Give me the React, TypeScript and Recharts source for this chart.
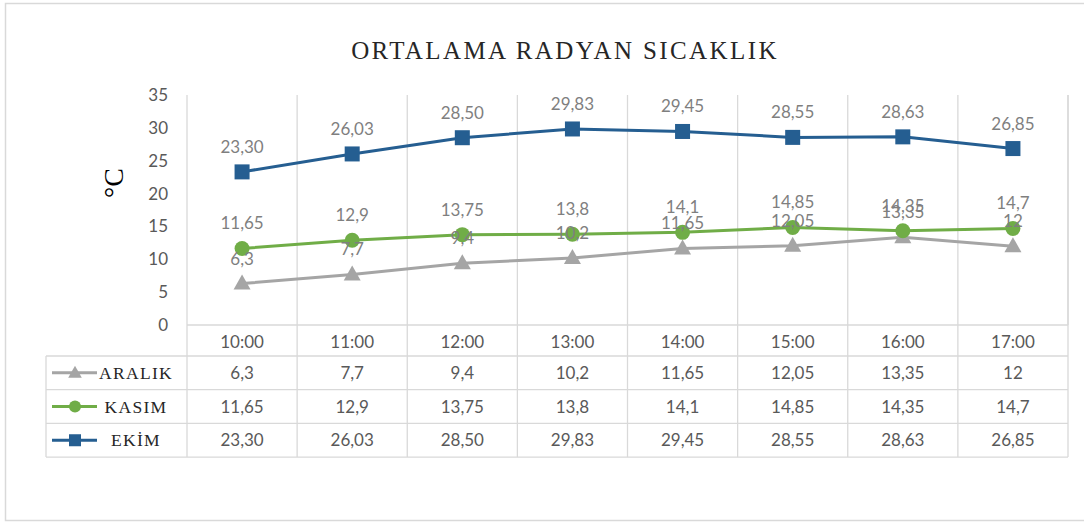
import React from 'react';
import { LineChart, Line, XAxis, YAxis, CartesianGrid, LabelList } from 'recharts';

// ---------- data ----------
const categories = ['10:00', '11:00', '12:00', '13:00', '14:00', '15:00', '16:00', '17:00'];
const aralik = [6.3, 7.7, 9.4, 10.2, 11.65, 12.05, 13.35, 12];
const kasim = [11.65, 12.9, 13.75, 13.8, 14.1, 14.85, 14.35, 14.7];
const ekim = [23.3, 26.03, 28.5, 29.83, 29.45, 28.55, 28.63, 26.85];
const yTicks = [0, 5, 10, 15, 20, 25, 30, 35];
const seriesNames = ['ARALIK', 'KASIM', 'EKİM'];
const chartTitle = 'ORTALAMA RADYAN SICAKLIK';
const yAxisTitle = '°C';

const fmtPlain = (v: number) => String(v).replace('.', ',');
const fmtTwo = (v: number) => v.toFixed(2).replace('.', ',');

const data = categories.map((c, i) => ({ time: c, ARALIK: aralik[i], KASIM: kasim[i], EKIM: ekim[i] }));

type Shape = 'triangle' | 'circle' | 'square';
const series: { key: string; name: string; color: string; shape: Shape; fmt: (v: number) => string; values: number[] }[] = [
  { key: 'ARALIK', name: seriesNames[0], color: '#A5A5A5', shape: 'triangle', fmt: fmtPlain, values: aralik },
  { key: 'KASIM', name: seriesNames[1], color: '#70AD47', shape: 'circle', fmt: fmtPlain, values: kasim },
  { key: 'EKIM', name: seriesNames[2], color: '#255E91', shape: 'square', fmt: fmtTwo, values: ekim },
];

// ---------- layout ----------
const W = 1084;
const H = 523;
const PLOT_TOP = 95;
const PLOT_LEFT = 187;
const PLOT_RIGHT = 1068;
const AXIS_Y = 325;
const TABLE_TOP = 356;
const ROW_H = 33.7;
const TABLE_BOTTOM = TABLE_TOP + ROW_H * 3;
const TABLE_LEFT = 46;
const HALF = (PLOT_RIGHT - PLOT_LEFT) / categories.length / 2;
const GRID = '#D9D9D9';
const SANS = 'Lato, "Open Sans", sans-serif';
const SERIF = '"Liberation Serif", "Times New Roman", serif';

function Marker({ shape, color, cx, cy, s = 1 }: { shape: Shape; color: string; cx: number; cy: number; s?: number }) {
  if (shape === 'square') {
    const h = 7.5 * s;
    return <rect x={cx - h} y={cy - h} width={2 * h} height={2 * h} fill={color} />;
  }
  if (shape === 'circle') {
    return <circle cx={cx} cy={cy} r={7.5 * s} fill={color} />;
  }
  const w = 8.5 * s;
  return (
    <polygon
      points={`${cx},${cy - 9 * s} ${cx - w},${cy + 6 * s} ${cx + w},${cy + 6 * s}`}
      fill={color}
    />
  );
}

const makeDot = (shape: Shape, color: string) => (props: any) => {
  const { cx, cy, index } = props;
  if (cx == null || cy == null) return <g key={`e${index}`} />;
  return (
    <g key={`m${index}`}>
      <Marker shape={shape} color={color} cx={cx} cy={cy} />
    </g>
  );
};

function TableTick(props: any) {
  const { x, y, payload } = props;
  const i: number = payload?.index ?? props.index ?? 0;
  const last = categories.length - 1;
  return (
    <g>
      <line x1={x - HALF} x2={x - HALF} y1={y} y2={TABLE_BOTTOM} stroke={GRID} strokeWidth={1.3} />
      {i === last && (
        <line x1={x + HALF} x2={x + HALF} y1={PLOT_TOP} y2={TABLE_BOTTOM} stroke={GRID} strokeWidth={1.3} />
      )}
      {i === 0 && (
        <g>
          {[0, 1, 2, 3].map((r) => (
            <line
              key={`h${r}`}
              x1={TABLE_LEFT}
              x2={PLOT_RIGHT}
              y1={TABLE_TOP + ROW_H * r}
              y2={TABLE_TOP + ROW_H * r}
              stroke={GRID}
              strokeWidth={1.3}
            />
          ))}
          <line x1={TABLE_LEFT} x2={TABLE_LEFT} y1={TABLE_TOP} y2={TABLE_BOTTOM} stroke={GRID} strokeWidth={1.3} />
          {series.map((s, r) => {
            const cy = TABLE_TOP + ROW_H * (r + 0.5);
            return (
              <g key={`lg${r}`}>
                <line x1={52} x2={97} y1={cy} y2={cy} stroke={s.color} strokeWidth={3} />
                <Marker shape={s.shape} color={s.color} cx={75} cy={cy} s={0.8} />
                <text
                  x={136}
                  y={cy + 6}
                  textAnchor="middle"
                  fontFamily={SERIF}
                  fontSize={17.5}
                  letterSpacing={1.3}
                  fill="#262626"
                >
                  {s.name}
                </text>
              </g>
            );
          })}
        </g>
      )}
      <text x={x} y={y + 23} textAnchor="middle" fontFamily={SANS} fontSize={17} fill="#595959">
        {payload.value}
      </text>
      {series.map((s, r) => (
        <text
          key={`v${r}`}
          x={x}
          y={TABLE_TOP + ROW_H * (r + 0.5) + 6}
          textAnchor="middle"
          fontFamily={SANS}
          fontSize={17}
          fill="#595959"
        >
          {s.fmt(s.values[i])}
        </text>
      ))}
    </g>
  );
}

export default function App() {
  return (
    <div style={{ position: 'absolute', left: 0, top: 0, width: W, height: H, background: '#fff' }}>
      <svg width={W} height={H} style={{ position: 'absolute', left: 0, top: 0 }}>
        <rect x={5.5} y={3.5} width={1100} height={517} fill="none" stroke={GRID} strokeWidth={1.5} />
        <text
          x={565}
          y={59}
          textAnchor="middle"
          fontFamily={SERIF}
          fontSize={25}
          letterSpacing={2.4}
          fill="#262626"
        >
          {chartTitle}
        </text>
        <text
          transform="translate(123,183) rotate(-90)"
          textAnchor="middle"
          fontFamily={SERIF}
          fontSize={28}
          fill="#000"
        >
          {yAxisTitle}
        </text>
      </svg>
      <div style={{ position: 'absolute', left: 0, top: 0 }}>
        <LineChart
          width={W}
          height={H}
          data={data}
          margin={{ top: PLOT_TOP, right: W - PLOT_RIGHT, bottom: 0, left: 0 }}
        >
          <CartesianGrid
            horizontal={false}
            vertical
            stroke={GRID}
            strokeWidth={1.3}
            verticalCoordinatesGenerator={(p: any) => {
              const left = p?.offset?.left ?? PLOT_LEFT;
              const width = p?.offset?.width ?? PLOT_RIGHT - PLOT_LEFT;
              return categories.map((_, i) => left + (i * width) / categories.length).concat([left + width]);
            }}
          />
          <XAxis
            dataKey="time"
            type="category"
            interval={0}
            height={H - AXIS_Y}
            padding={{ left: HALF, right: HALF }}
            axisLine={{ stroke: GRID, strokeWidth: 1.3 }}
            tickLine={false}
            tickSize={0}
            tickMargin={0}
            tick={<TableTick />}
          />
          <YAxis
            width={PLOT_LEFT}
            domain={[0, 35]}
            ticks={yTicks}
            interval={0}
            axisLine={false}
            tickLine={false}
            tickSize={6}
            tickMargin={13}
            tick={{ fontFamily: SANS, fontSize: 17, fill: '#595959' }}
          />
          {series.map((s) => (
            <Line
              key={s.key}
              dataKey={s.key}
              name={s.name}
              stroke={s.color}
              strokeWidth={3}
              dot={makeDot(s.shape, s.color)}
              activeDot={false}
              isAnimationActive={false}
            >
              <LabelList
                dataKey={s.key}
                position="top"
                offset={19}
                formatter={(v: any) => s.fmt(Number(v))}
                fill="#7F7F7F"
                fontSize={17}
                fontFamily={SANS}
              />
            </Line>
          ))}
        </LineChart>
      </div>
    </div>
  );
}
